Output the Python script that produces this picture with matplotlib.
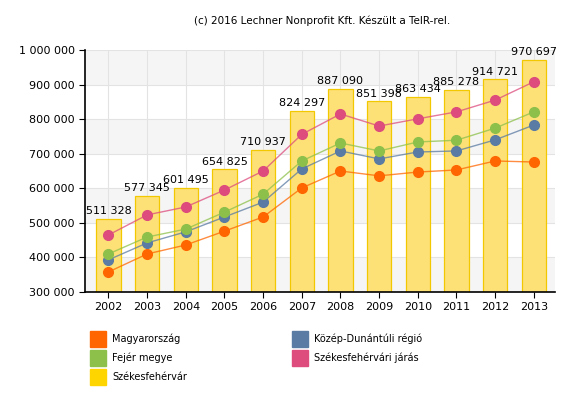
import numpy as np
import matplotlib.pyplot as plt
from matplotlib.patches import Rectangle

years = [2002, 2003, 2004, 2005, 2006, 2007, 2008, 2009, 2010, 2011, 2012, 2013]

# bars: Székesfehérvár
szfvar = [511328, 577345, 601495, 654825, 710937, 824297, 887090, 851398, 863434, 885278, 914721, 970697]

# lines
magyarorszag = [358000, 410000, 436000, 476000, 517000, 601000, 650000, 636000, 647000, 653000, 679000, 676000]
kozep_dunantul = [393000, 442000, 474000, 517000, 560000, 656000, 708000, 685000, 705000, 708000, 740000, 783000]
fejer = [410000, 459000, 482000, 531000, 583000, 679000, 731000, 708000, 734000, 739000, 774000, 821000]
jaras = [465000, 523000, 546000, 595000, 650000, 756000, 815000, 780000, 801000, 821000, 855000, 908000]

c_orange = '#FF6600'
c_green = '#8DC04A'
c_yellow = '#FFD500'
c_blue = '#5A7BA3'
c_pink = '#DD4C7C'

fig = plt.figure(figsize=(5.8, 4), dpi=100)
ax = fig.add_axes([0.147, 0.27, 0.81, 0.605])

x = np.arange(len(years))
ax.set_xlim(-0.6, len(years) - 0.45)
ax.set_ylim(300000, 1000000)

# alternating bands + grid
for lo in range(300000, 1000000, 200000):
    ax.axhspan(lo, lo + 100000, color='#F5F5F5', zorder=0, lw=0)
for yv in range(300000, 1000001, 100000):
    ax.axhline(yv, color='#E3E3E3', lw=0.8, zorder=0.5)
for xi in x:
    ax.axvline(xi, color='#E3E3E3', lw=0.8, zorder=0.5)

ax.bar(x, szfvar, width=0.63, color='#FDE177', edgecolor='#F2C800', lw=0.9, zorder=2)
for xi, v in zip(x, szfvar):
    ax.text(xi, v + 8000, f"{v:,}".replace(',', ' '), ha='center', va='bottom', fontsize=8, zorder=5)

for ys, col in [(magyarorszag, c_orange), (kozep_dunantul, c_blue), (fejer, c_green), (jaras, c_pink)]:
    ax.plot(x, ys, color=col, lw=1, alpha=0.75, zorder=3)
    ax.plot(x, ys, 'o', color=col, ms=7, mec=col, zorder=4)

ax.set_xticks(x)
ax.set_xticklabels([str(y) for y in years], fontsize=8)
ax.set_yticks(range(300000, 1000001, 100000))
ax.set_yticklabels([f"{v:,}".replace(',', ' ') for v in range(300000, 1000001, 100000)], fontsize=8)
ax.tick_params(direction='out', length=4, width=0.8, color='black')
ax.spines['top'].set_visible(False)
ax.spines['right'].set_visible(False)
ax.spines['left'].set_linewidth(1.2)
ax.spines['bottom'].set_linewidth(1.2)

fig.text(0.555, 0.948, "(c) 2016 Lechner Nonprofit Kft. Készült a TeIR-rel.", ha='center', va='center', fontsize=7.5)

# legend
legend_items = [
    ("Magyarország", c_orange, 90, 339),
    ("Fejér megye", c_green, 90, 358),
    ("Székesfehérvár", c_yellow, 90, 377),
    ("Közép-Dunántúli régió", c_blue, 292, 339),
    ("Székesfehérvári járás", c_pink, 292, 358),
]
W, H = 580.0, 400.0
for label, col, px, py in legend_items:
    fig.patches.append(Rectangle((px / W, 1 - (py + 8) / H), 16 / W, 16 / H,
                                 transform=fig.transFigure, color=col))
    fig.text((px + 22) / W, 1 - py / H, label, fontsize=7, va='center', ha='left')

fig.savefig('out.png', dpi=100)
